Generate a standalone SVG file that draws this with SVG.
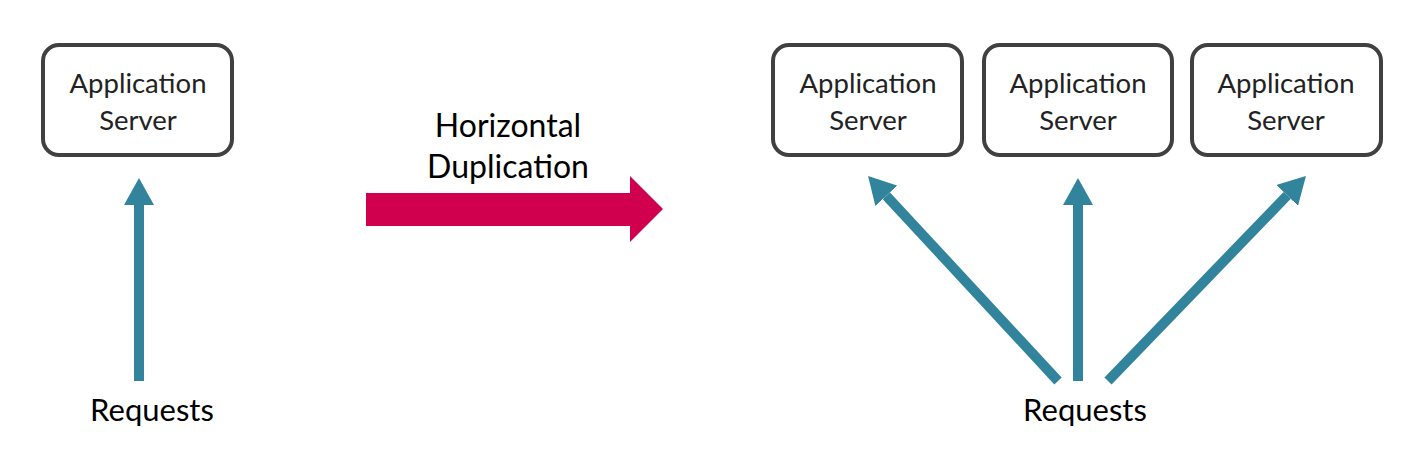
<svg xmlns="http://www.w3.org/2000/svg" width="1425" height="468" viewBox="0 0 1425 468">
<style>
.box{fill:#fff;stroke:#404040;stroke-width:4}
.lbl{font-family:Lato,"Liberation Sans",sans-serif;font-size:27.5px;fill:#222;text-anchor:middle}
.big{font-family:Lato,"Liberation Sans",sans-serif;font-size:30px;fill:#000;text-anchor:middle}
.hd{font-size:32px}
.rq{font-size:31px}
.con{stroke:#31849B;stroke-width:10;fill:none;marker-end:url(#ah)}
</style>
<defs>
<marker id="ah" markerUnits="userSpaceOnUse" markerWidth="28" markerHeight="30" refX="0" refY="15" orient="auto" viewBox="0 0 28 30">
<path d="M0,0 L27,15 L0,30 z" fill="#31849B"/>
</marker>
</defs>
<rect width="1425" height="468" fill="#fff"/>
<g id="server-left">
<rect class="box" x="43" y="45" width="189" height="110" rx="16"/>
<text class="lbl" x="138" y="93">Application</text>
<text class="lbl" x="138" y="130">Server</text>
</g>
<g id="server-1">
<rect class="box" x="773" y="45" width="189" height="110" rx="16"/>
<text class="lbl" x="868" y="93">Application</text>
<text class="lbl" x="868" y="130">Server</text>
</g>
<g id="server-2">
<rect class="box" x="984" y="45" width="188" height="110" rx="16"/>
<text class="lbl" x="1078" y="93">Application</text>
<text class="lbl" x="1078" y="130">Server</text>
</g>
<g id="server-3">
<rect class="box" x="1192" y="45" width="189" height="110" rx="16"/>
<text class="lbl" x="1286" y="93">Application</text>
<text class="lbl" x="1286" y="130">Server</text>
</g>
<g id="requests-left">
<text class="big rq" x="152" y="421">Requests</text>
</g>
<g id="requests-right">
<text class="big rq" x="1085" y="421">Requests</text>
</g>
<g id="transition">
<polygon points="366,193 630,193 630,176 663,209 630,242 630,226 366,226" fill="#D0004F"/>
<text class="big hd" x="508" y="137">Horizontal</text>
<text class="big hd" x="508" y="178">Duplication</text>
</g>
<g id="connectors">
<line class="con" x1="139" y1="381" x2="139" y2="205"/>
<line class="con" x1="1078" y1="381" x2="1078" y2="205"/>
<line class="con" x1="1058" y1="381" x2="886.4" y2="195.8"/>
<line class="con" x1="1108" y1="381" x2="1287.2" y2="195.4"/>
</g>
</svg>
